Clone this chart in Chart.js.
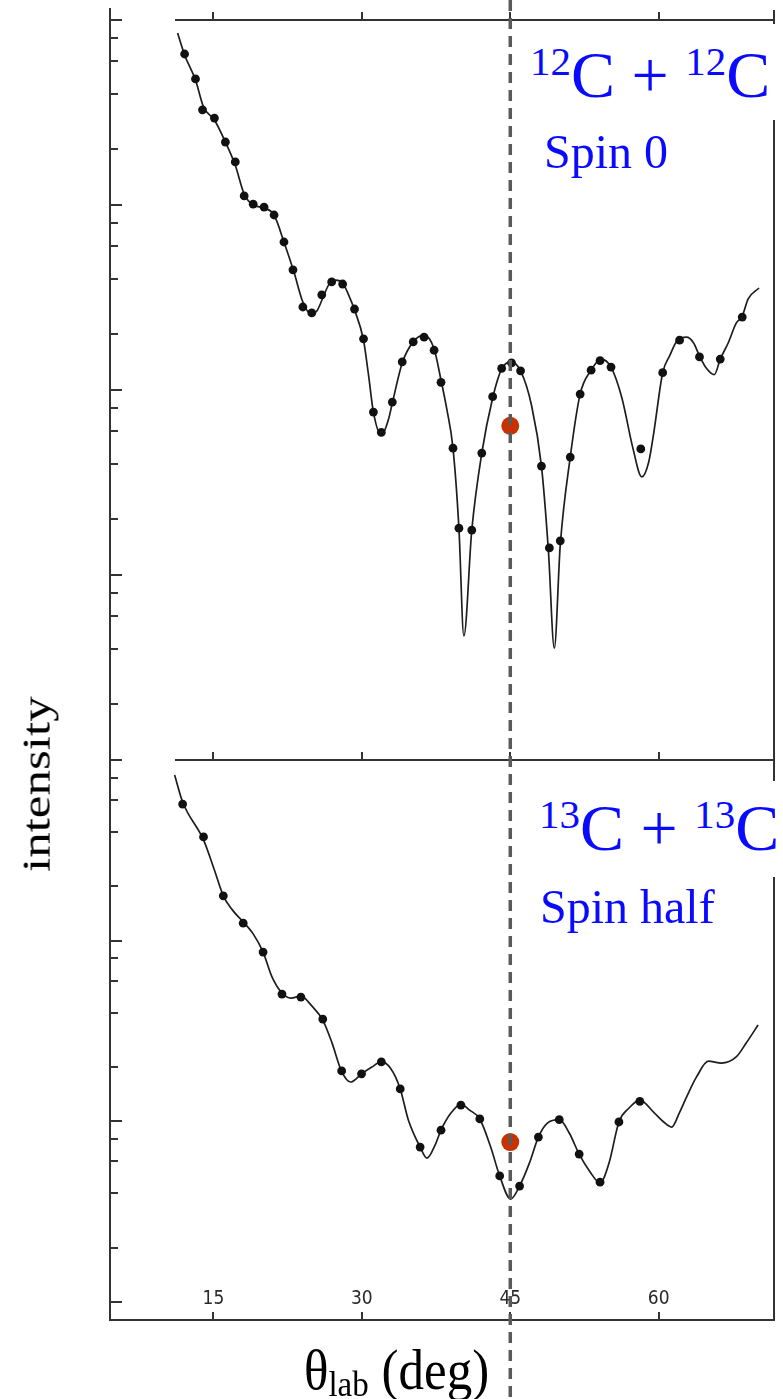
<!DOCTYPE html>
<html>
<head>
<meta charset="utf-8">
<title>12C+12C vs 13C+13C</title>
<script src="https://cdn.jsdelivr.net/npm/chart.js@4.4.1/dist/chart.umd.min.js"></script>
<style>
  html, body { margin: 0; padding: 0; background: #fff; }
  #wrap { position: relative; width: 783px; height: 1399px; overflow: hidden; }
  #chart { position: absolute; left: 0; top: 0; }
  .mask { position: absolute; background: #fff; }
  .lbl { position: absolute; font-family: "Liberation Serif", "Times New Roman", serif; line-height: 1; white-space: nowrap; }
  .blue { color: #0a0aff; }
  .big { font-size: 66px; }
  .mid { font-size: 48px; }
  .sup { font-size: 41px; position: relative; top: -22px; }
  .axis { font-size: 51px; color: #000; transform-origin: 0 0; }
  .sub { font-size: 33px; position: relative; top: 6px; }
</style>
</head>
<body>
<div id="wrap">
  <canvas id="chart" width="783" height="1399"></canvas>

  <div class="mask" style="left:520px; top:24px; width:263px; height:96px"></div>
  <div class="lbl blue big" style="left:530px; top:42px"><span class="sup">12</span>C + <span class="sup">12</span>C</div>
  <div class="lbl blue mid" style="left:544px; top:128px">Spin 0</div>

  <div class="mask" style="left:520px; top:781px; width:263px; height:96px"></div>
  <div class="lbl blue big" style="left:539px; top:795px"><span class="sup">13</span>C + <span class="sup">13</span>C</div>
  <div class="lbl blue mid" style="left:540px; top:883px">Spin half</div>

  <div class="lbl axis" style="left:0; top:0; transform: translate(16px, 872px) rotate(-90deg) scaleY(0.8)">intensity</div>
  <div class="lbl axis" style="left:0; top:0; transform: translate(304px, 1343px) scaleY(1.1)">θ<span class="sub">lab</span> (deg)</div>
</div>

<script>
// x axis (lab angle, deg)
const xMin = 4.55
const xMax = 71.65
const xTickValues = [15, 30, 45, 60]
const markAngle = 45
const minorSteps = [2, 4, 6, 8]

// 12C + 12C : measured points
const top12DotAngles = [12.09, 13.19, 13.90, 15.10, 16.21, 17.21, 18.11, 19.02, 20.12, 21.13, 22.13, 23.04, 24.04, 24.94, 25.95, 26.95, 28.06, 29.26, 30.17, 31.17, 31.97, 33.08, 34.08, 35.19, 36.29, 37.30, 38.00, 39.21, 39.81, 41.11, 42.12, 43.22, 44.13, 45.13, 46.04, 48.15, 48.95, 50.05, 51.06, 52.06, 53.17, 54.07, 55.18, 58.19, 60.40, 62.11, 64.12, 66.22, 68.44]
const top12DotValues = [6550, 4800, 3270, 2950, 2190, 1710, 1120, 1010, 975, 883, 631, 446, 281, 261, 327, 384, 374, 274, 189, 76, 59, 86, 142, 182, 193, 164, 110, 48.5, 17.9, 17.5, 45.6, 92, 131, 140, 127, 38.8, 14.0, 15.3, 43.4, 95, 128, 144, 133, 48, 124, 186, 151, 147, 248]

// 12C + 12C : calculated curve
const top12CurveAngles = [11.38, 12.09, 13.19, 14.00, 15.10, 16.21, 17.21, 18.11, 19.02, 20.12, 21.13, 22.13, 23.14, 24.04, 24.84, 25.45, 26.05, 26.65, 27.35, 28.06, 28.66, 29.26, 30.17, 30.67, 31.17, 31.97, 32.68, 33.08, 34.08, 35.19, 36.29, 37.30, 38.00, 38.60, 39.21, 39.81, 40.31, 41.11, 42.12, 43.22, 44.13, 45.03, 46.04, 47.14, 48.15, 48.85, 49.45, 50.05, 51.06, 52.06, 53.17, 54.17, 55.18, 56.28, 57.39, 58.29, 58.99, 59.50, 60.40, 61.10, 61.91, 62.81, 63.51, 64.12, 64.82, 65.62, 66.22, 67.03, 67.83, 68.44, 69.04, 70.14]
const top12CurveValues = [8510, 6470, 4740, 3390, 2880, 2190, 1640, 1146, 1000, 963, 883, 631, 434, 299, 258, 267, 314, 370, 393, 379, 327, 271, 186, 121, 76, 57, 69, 85, 140, 182, 198, 167, 113, 78, 48.5, 17.9, 4.68, 17.5, 45.6, 90.6, 130, 142, 127, 83, 38.8, 13.6, 4.03, 14.5, 43.4, 95, 128, 147, 133, 90.6, 48.5, 33.9, 40.8, 58.7, 124, 153, 186, 193, 180, 153, 131, 121, 147, 180, 230, 251, 311, 356]
const top12MarkValue = 64

// 13C + 13C : measured points
const bot13DotAngles = [11.89, 14.00, 16.00, 18.01, 20.02, 21.93, 23.84, 26.05, 27.96, 29.97, 31.97, 33.88, 35.89, 38.00, 40.01, 41.92, 43.93, 45.94, 47.84, 49.95, 51.96, 54.07, 55.98, 58.09]
const bot13DotValues = [570, 375, 177, 125, 86.4, 50.6, 48.7, 36.8, 19.0, 18.3, 21.3, 15.1, 7.2, 8.93, 12.3, 10.3, 4.98, 4.38, 8.18, 10.2, 6.58, 4.60, 9.91, 12.9]

// 13C + 13C : calculated curve
const bot13CurveAngles = [11.08, 11.89, 14.00, 15.10, 16.00, 16.91, 18.01, 19.02, 20.02, 20.93, 21.93, 22.83, 23.84, 24.94, 26.05, 26.95, 27.96, 28.86, 29.97, 30.97, 31.97, 32.88, 33.88, 34.69, 35.89, 36.59, 37.40, 38.00, 39.00, 40.01, 40.92, 41.92, 43.02, 43.93, 45.03, 45.94, 46.94, 47.84, 48.75, 49.95, 50.96, 51.96, 53.07, 54.07, 54.98, 55.98, 56.98, 58.09, 59.50, 60.50, 61.30, 62.11, 62.81, 63.82, 65.02, 66.33, 67.83, 68.84, 70.04]
const bot13CurveValues = [826, 585, 361, 246, 177, 148, 127, 109, 86.4, 62.8, 51.3, 48.1, 49.3, 43.5, 36.3, 27.5, 18.9, 16.5, 18.3, 19.9, 21.3, 19.7, 15.1, 10.2, 7.2, 6.25, 7.38, 8.93, 11.1, 12.4, 11.5, 10.3, 7.2, 4.98, 3.71, 4.38, 5.88, 8.18, 9.77, 10.2, 8.61, 6.58, 5.24, 4.55, 5.88, 9.91, 11.8, 13.1, 11.2, 9.91, 9.29, 11.2, 13.6, 17.6, 21.5, 21.0, 22.7, 27.1, 34.1]
const bot13MarkValue = 7.67

// y ranges (log decades) of the two panels
const topExpMin = 0
const topExpMax = 4
const botMin = 0.794
const botExpMax = 3

const toPoints = (xs, ys) => xs.map((x, i) => ({ x: x, y: ys[i] }))

// decade ticks + 2,4,6,8 minor ticks
const logTicks = (e0, e1) => {
    const list = []
    for (let e = e0; e <= e1; e++) {
        list.push({ value: Math.pow(10, e), major: true })
        if (e < e1) minorSteps.forEach(m => list.push({ value: m * Math.pow(10, e), major: false }))
    }
    return list
}

// frame, inward ticks and the 45 deg dashed line
const framePlugin = {
    id: 'frame',
    afterDraw(chart) {
        const ctx = chart.ctx
        const area = chart.chartArea
        const xs = chart.scales.x
        const yTop = chart.scales.yTop
        const yBot = chart.scales.yBottom
        ctx.save()
        ctx.strokeStyle = '#333'
        ctx.lineWidth = 2
        ctx.beginPath()
        ctx.moveTo(area.left, 8); ctx.lineTo(area.left, area.top)
        ctx.moveTo(area.right, 10); ctx.lineTo(area.right, area.bottom)
        ctx.moveTo(175, area.top); ctx.lineTo(area.right, area.top)
        ctx.moveTo(175, yTop.bottom); ctx.lineTo(area.right, yTop.bottom)
        ;[yTop, yBot].forEach(s => {
            s.ticks.forEach(t => {
                const py = Math.round(s.getPixelForValue(t.value))
                ctx.moveTo(area.left, py)
                ctx.lineTo(area.left + (t.major ? 12 : 8), py)
            })
        })
        xTickValues.forEach(v => {
            const px = Math.round(xs.getPixelForValue(v))
            ;[area.top, yTop.bottom, area.bottom].forEach(ly => {
                ctx.moveTo(px, ly); ctx.lineTo(px, ly - 8)
            })
        })
        ctx.stroke()

        const px45 = xs.getPixelForValue(markAngle)
        ctx.setLineDash([11, 7])
        ctx.strokeStyle = '#5a5a5a'
        ctx.lineWidth = 3.5
        ctx.beginPath()
        ctx.moveTo(px45, 0)
        ctx.lineTo(px45, chart.height)
        ctx.stroke()
        ctx.restore()
    }
}

const dotStyle = { showLine: false, pointRadius: 4.4, pointBackgroundColor: '#111', pointBorderWidth: 0 }
const curveStyle = { showLine: true, pointRadius: 0, borderColor: '#1e1e1e', borderWidth: 1.7, cubicInterpolationMode: 'monotone' }
const markStyle = { showLine: false, pointRadius: 9, pointBackgroundColor: '#c83200', pointBorderWidth: 0 }

const yCommon = {
    type: 'logarithmic',
    position: 'left',
    stack: 'panels',
    grid: { drawOnChartArea: false, drawTicks: false },
    border: { display: true, color: '#333', width: 2 },
    ticks: { display: false },
    afterFit: s => { s.width = 0 }
}

const ctx = document.getElementById('chart').getContext('2d')
const chart = new Chart(ctx, {
    type: 'scatter',
    data: {
        datasets: [
            { ...markStyle, label: '12C mark', yAxisID: 'yTop', data: [{ x: markAngle, y: top12MarkValue }] },
            { ...markStyle, label: '13C mark', yAxisID: 'yBottom', data: [{ x: markAngle, y: bot13MarkValue }] },
            { ...dotStyle, label: '12C+12C data', yAxisID: 'yTop', data: toPoints(top12DotAngles, top12DotValues) },
            { ...dotStyle, label: '13C+13C data', yAxisID: 'yBottom', data: toPoints(bot13DotAngles, bot13DotValues) },
            { ...curveStyle, label: '12C+12C calc', yAxisID: 'yTop', data: toPoints(top12CurveAngles, top12CurveValues) },
            { ...curveStyle, label: '13C+13C calc', yAxisID: 'yBottom', data: toPoints(bot13CurveAngles, bot13CurveValues) }
        ]
    },
    options: {
        responsive: false,
        animation: false,
        layout: { padding: { left: 110, right: 5, top: 20, bottom: 0 } },
        plugins: { legend: { display: false }, tooltip: { enabled: false } },
        scales: {
            x: {
                type: 'linear',
                min: xMin,
                max: xMax,
                grid: { drawOnChartArea: false, drawTicks: false },
                border: { display: true, color: '#333', width: 2 },
                ticks: {
                    // mirrored: labels sit just inside the plot, above the axis line
                    mirror: true,
                    color: '#2a2a2a',
                    padding: 10,
                    font: { family: '"Liberation Sans Narrow", "DejaVu Sans Condensed", sans-serif', size: 19 }
                },
                afterBuildTicks: s => { s.ticks = xTickValues.map(v => ({ value: v })) },
                afterFit: s => { s.height = 79 }
            },
            yBottom: {
                ...yCommon,
                stackWeight: 560,
                min: botMin,
                max: Math.pow(10, botExpMax),
                afterBuildTicks: s => { s.ticks = logTicks(0, botExpMax) }
            },
            yTop: {
                ...yCommon,
                stackWeight: 740,
                min: Math.pow(10, topExpMin),
                max: Math.pow(10, topExpMax),
                afterBuildTicks: s => { s.ticks = logTicks(topExpMin, topExpMax) }
            }
        }
    },
    plugins: [framePlugin]
})
</script>
</body>
</html>
